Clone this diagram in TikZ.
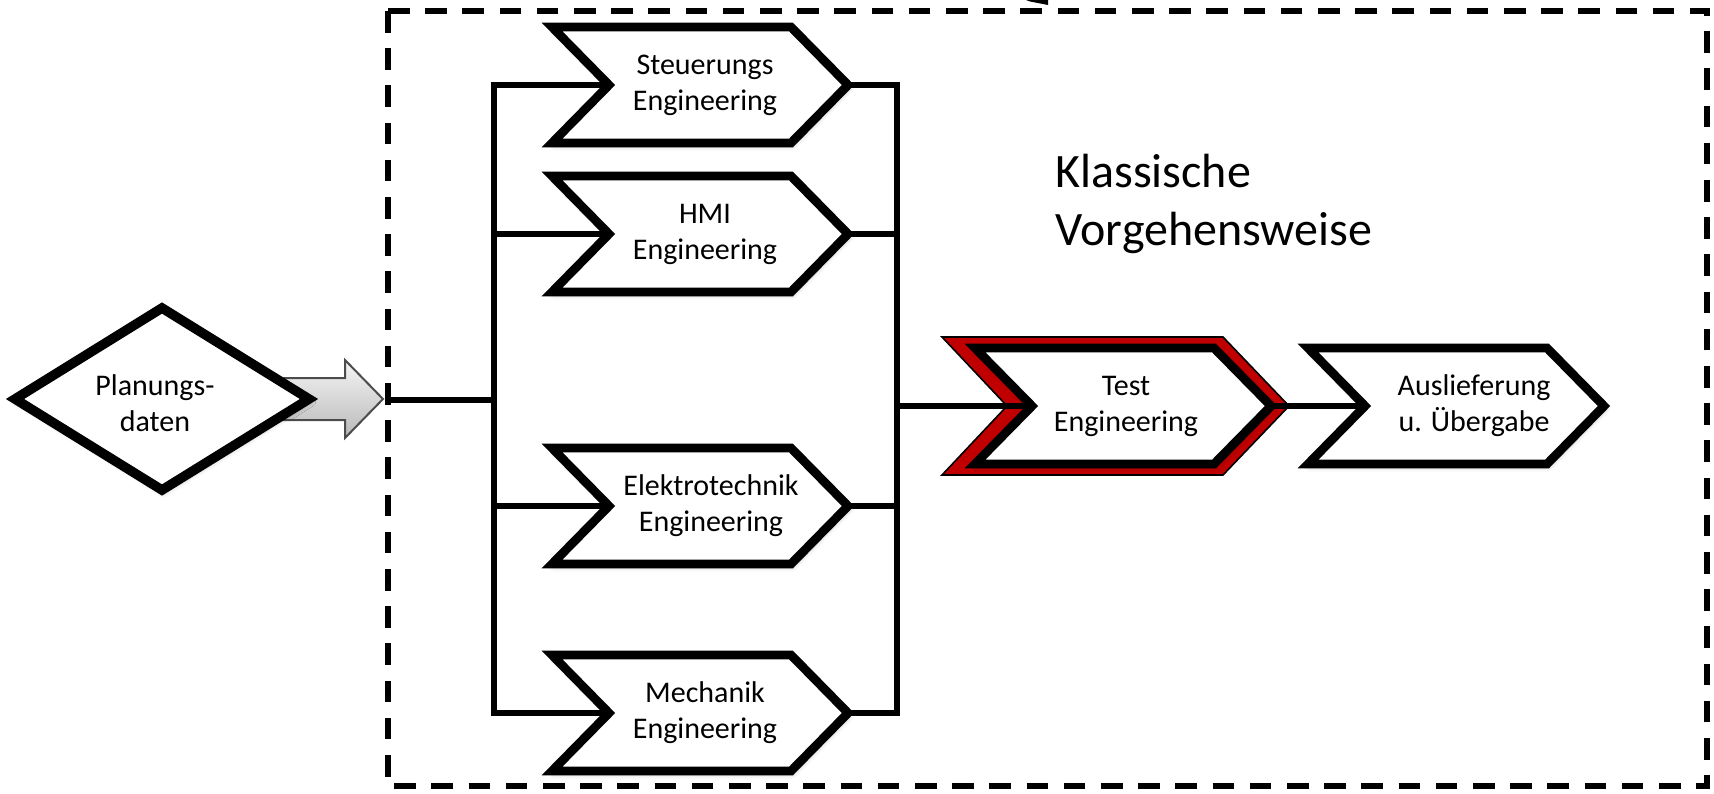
\documentclass[tikz,border=0pt]{standalone}
\usepackage{fontspec}
\setmainfont{Carlito}
\usetikzlibrary{shadows.blur}
\definecolor{bevelred}{RGB}{192,0,0}

\tikzset{
  chevbox/.style={draw=black, line width=4.4pt, fill=white, line join=miter,
    blur shadow={shadow xshift=0.8pt, shadow yshift=-1.4pt, shadow blur radius=2.5pt, shadow opacity=30}},
  wire/.style={draw=black, line width=2.9pt, line join=miter},
  lbl/.style={font=\fontsize{15}{18}\selectfont, align=center, inner sep=0pt},
  frame/.style={draw=black, line width=2.7pt, dash pattern=on 10.8pt off 7.8pt},
}

% chevron: name, centre x, centre y, extra style
\newcommand{\chevron}[4]{%
  \draw[chevbox,#4] (#2-148,#3-58) -- (#2+91,#3-58) -- (#2+148,#3) -- (#2+91,#3+58)
    -- (#2-148,#3+58) -- (#2-91,#3) -- cycle;
  \coordinate (#1-in) at (#2-91,#3);
  \coordinate (#1-out) at (#2+148,#3);
}

\begin{document}
\begin{tikzpicture}[x=0.5pt, y=-0.5pt]
\useasboundingbox (0,0) rectangle (1714,793);

% dashed process frame
\draw[frame] (388,11) rectangle (1707,786);
\coordinate (entry) at (388,400);
\fill[black] (1026,0) -- (1048,0) -- (1048,5) -- (1030,1.5) -- cycle;

% input arrow and planning data
\draw[line width=1pt, draw=black!70, top color=gray!8, bottom color=gray!55]
  (268,378) -- (345,378) -- (345,360) -- (383,399) -- (345,438) -- (345,420) -- (268,420) -- cycle;
\draw[line width=4.8pt, fill=white, line join=miter,
  blur shadow={shadow xshift=0.8pt, shadow yshift=-1.4pt, shadow blur radius=2.5pt, shadow opacity=30}]
  (162,308) -- (309,399) -- (162,490) -- (15,399) -- cycle;
\node[lbl] (plan) at (155,403) {Planungs-\\daten};

% parallel engineering disciplines
\chevron{steu}{700}{85}{}
\chevron{hmi}{700}{234}{}
\chevron{elek}{700}{506}{}
\chevron{mech}{700}{713}{}
\node[lbl] (steutxt) at (705,85) {Steuerungs\\Engineering};
\node[lbl] (hmitxt) at (705,234) {HMI\\Engineering};
\node[lbl] (elektxt) at (711,506) {Elektrotechnik\\Engineering};
\node[lbl] (mechtxt) at (705,713) {Mechanik\\Engineering};

% test step with red bevel
\draw[fill=bevelred, draw=black, line width=0.8pt, line join=miter]
  (942,337) -- (1223,337) -- (1289,406) -- (1223,475) -- (942,475) -- (1007,406) -- cycle;
\chevron{test}{1123}{406}{}
\node[lbl] (testtxt) at (1126,406) {Test\\Engineering};

% delivery
\chevron{aus}{1456}{406}{}
\node[lbl] (austxt) at (1474,406) {Auslieferung\\u. Übergabe};

% buses
\coordinate (lb) at (494,0);
\coordinate (rb) at (897,0);
\draw[wire] (steu-in) -| (mech-in -| lb) -- (mech-in);
\draw[wire] (hmi-in) -- (hmi-in -| lb);
\draw[wire] (elek-in) -- (elek-in -| lb);
\draw[wire] (entry) -- (entry -| lb);
\draw[wire] (steu-out) -| (mech-out -| rb) -- (mech-out);
\draw[wire] (hmi-out) -- (hmi-out -| rb);
\draw[wire] (elek-out) -- (elek-out -| rb);
\draw[wire] (test-in -| rb) -- (test-in);
\draw[wire] (test-out) -- (aus-in);

% caption
\node[font=\fontsize{24}{29}\selectfont, align=left, inner sep=0pt, anchor=west] (title)
  at (1055,204) {Klassische\\Vorgehensweise};
\end{tikzpicture}
\end{document}
